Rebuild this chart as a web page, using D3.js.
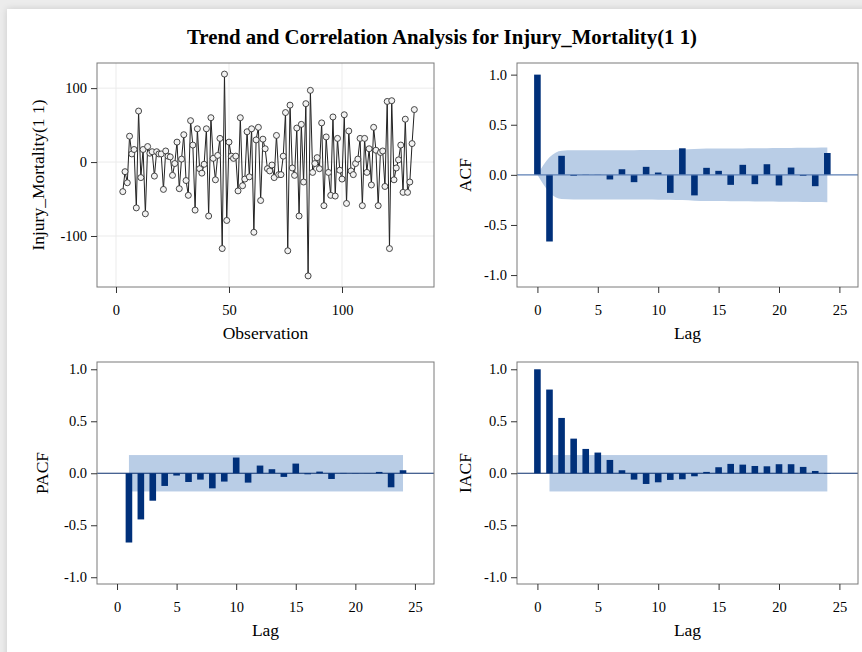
<!DOCTYPE html>
<html>
<head>
<meta charset="utf-8">
<script src="https://cdn.jsdelivr.net/npm/d3@7"></script>
<style>
  body { margin: 0; background: #ececec; overflow: hidden; }
  #card { position: absolute; left: 7px; top: 9px; width: 900px; height: 700px;
          background: #fff; box-shadow: 0 0 7px rgba(0,0,0,0.14); }
  #chart { position: absolute; left: 0; top: 0; }
</style>
</head>
<body>
<div id="card"></div>
<svg id="chart" width="862" height="652"></svg>
<script>
// time series after (1 1) differencing, starts at observation 3
const obsStart = 3;
const series = [
  -40, -13, -28, 35, 11, 17, -62, 69, -21, 17,
  -70, 21, 12, 14, -19, 14, 11, 11, -37, 15,
  8, 7, -18, -2, 27, -36, 4, 37, -25, -45,
  56, 23, -65, 45, -9, -15, -3, 45, -73, 60,
  5, -24, 9, 32, -117, 119, -79, 27, 8, 5,
  8, -39, 60, -32, -23, 41, -20, 45, -95, 30,
  47, -52, 31, 18, -9, -12, -4, -21, 36, -17,
  -17, 8, 67, -120, 77, -8, -18, 46, -73, 51,
  -27, 79, -154, 97, -14, -2, 6, -9, 53, -59,
  34, -14, -45, 61, -46, 32, -11, -23, 64, -56,
  42, -12, -17, -2, 4, 32, -59, 32, -14, 18,
  -31, 47, 16, -59, 13, 15, -33, 82, -117, 83,
  -24, -8, 3, 23, -41, 58, -41, -27, 25, 71
];
const obsTicks = [0, 50, 100];
const seriesTicks = [-100, 0, 100];

// autocorrelations, lag 0..24
const acf = [1.0, -0.665, 0.19, -0.01, 0.003, 0.002, -0.046, 0.056, -0.073, 0.08,
  0.023, -0.18, 0.265, -0.205, 0.07, 0.04, -0.10, 0.10, -0.093, 0.106,
  -0.106, 0.073, -0.01, -0.113, 0.218];
const acfBand = [0, 0.175, 0.241, 0.245, 0.245, 0.245, 0.245, 0.246, 0.246, 0.247,
  0.248, 0.248, 0.252, 0.258, 0.262, 0.262, 0.263, 0.264, 0.265, 0.266,
  0.268, 0.269, 0.27, 0.271, 0.273];

// partial autocorrelations, lag 1..24
const pacf = [-0.666, -0.444, -0.264, -0.122, -0.022, -0.084, -0.061, -0.145, -0.08, 0.151,
  -0.09, 0.074, 0.039, -0.035, 0.093, -0.01, 0.016, -0.055, 0.003, -0.002,
  0.001, 0.013, -0.135, 0.029];
const pacfBand = 0.175;

// inverse autocorrelations, lag 0..24
const iacf = [1.0, 0.805, 0.532, 0.333, 0.234, 0.199, 0.128, 0.029, -0.061, -0.103,
  -0.087, -0.064, -0.058, -0.029, 0.013, 0.058, 0.09, 0.083, 0.07, 0.067,
  0.087, 0.087, 0.061, 0.022, -0.005];
const iacfBand = 0.175;

const lagTicks = [0, 5, 10, 15, 20, 25];
const corrTicks = [-1, -0.5, 0, 0.5, 1];

const font = "'Liberation Serif', 'Times New Roman', serif";
const barColor = '#00307a';
const bandColor = '#b9cde6';

const svg = d3.select('#chart');

svg.append('text')
  .attr('x', 442)
  .attr('y', 44)
  .attr('text-anchor', 'middle')
  .attr('font-family', font)
  .attr('font-weight', 'bold')
  .attr('font-size', '20px')
  .attr('textLength', 510)
  .attr('lengthAdjust', 'spacingAndGlyphs')
  .text('Trend and Correlation Analysis for Injury_Mortality(1 1)');

// one panel: frame, axes, labels; returns scales and plot group
function panel(box, xdom, ydom, xticks, yticks, yfmt, xlabel, ylabel, grid) {
  const g = svg.append('g').attr('transform', `translate(${box.x},${box.y})`);
  const xs = d3.scaleLinear().domain(xdom).range([0, box.w]);
  const ys = d3.scaleLinear().domain(ydom).range([box.h, 0]);

  if (grid) {
    g.selectAll('.gx').data(xticks).enter().append('line')
      .attr('x1', d => xs(d)).attr('x2', d => xs(d))
      .attr('y1', 0).attr('y2', box.h)
      .attr('stroke', '#ebebeb');
    g.selectAll('.gy').data(yticks).enter().append('line')
      .attr('x1', 0).attr('x2', box.w)
      .attr('y1', d => ys(d)).attr('y2', d => ys(d))
      .attr('stroke', '#ebebeb');
  }

  const plot = g.append('g');

  g.append('rect')
    .attr('width', box.w).attr('height', box.h)
    .attr('fill', 'none').attr('stroke', '#7a7a7a');

  const xa = g.append('g')
    .attr('transform', `translate(0,${box.h})`)
    .call(d3.axisBottom(xs).tickValues(xticks).tickFormat(d => String(d))
      .tickSizeOuter(0).tickSize(6).tickPadding(12));
  const ya = g.append('g')
    .call(d3.axisLeft(ys).tickValues(yticks).tickFormat(yfmt)
      .tickSizeOuter(0).tickSize(6).tickPadding(4));
  [xa, ya].forEach(a => {
    a.select('.domain').remove();
    a.selectAll('text').attr('font-family', font).attr('font-size', '14.5px').attr('fill', '#000');
    a.selectAll('line').attr('stroke', '#333');
  });

  g.append('text')
    .attr('x', box.w / 2).attr('y', box.h + 52)
    .attr('text-anchor', 'middle')
    .attr('font-family', font).attr('font-size', '17.5px')
    .text(xlabel);
  g.append('text')
    .attr('transform', `translate(${box.ylab},${box.h / 2}) rotate(-90)`)
    .attr('text-anchor', 'middle')
    .attr('font-family', font).attr('font-size', '17.5px')
    .text(ylabel);

  return { plot, xs, ys, box };
}

// top left: the differenced series
const ts = panel({ x: 97, y: 63, w: 337, h: 224, ylab: -53 },
  [-8.4, 140.7], [-169, 134], obsTicks, seriesTicks, d => String(d),
  'Observation', 'Injury_Mortality(1 1)', true);

const line = d3.line()
  .x((d, i) => ts.xs(i + obsStart))
  .y(d => ts.ys(d));
ts.plot.append('path')
  .attr('d', line(series))
  .attr('fill', 'none').attr('stroke', '#222').attr('stroke-width', 1);
ts.plot.selectAll('circle').data(series).enter().append('circle')
  .attr('cx', (d, i) => ts.xs(i + obsStart))
  .attr('cy', d => ts.ys(d))
  .attr('r', 3)
  .attr('fill', '#f2f2f2').attr('stroke', '#333').attr('stroke-width', 0.9);

const corrFmt = d => d.toFixed(1);

function bars(p, values, lagFrom) {
  const bw = 6.6;
  p.plot.selectAll('rect.bar').data(values).enter().append('rect')
    .attr('class', 'bar')
    .attr('x', (d, i) => p.xs(i + lagFrom) - bw / 2)
    .attr('width', bw)
    .attr('y', d => p.ys(Math.max(d, 0)))
    .attr('height', d => Math.abs(p.ys(d) - p.ys(0)))
    .attr('fill', barColor);
}

function zeroLine(p, color) {
  p.plot.append('line')
    .attr('x1', 0).attr('x2', p.box.w)
    .attr('y1', p.ys(0)).attr('y2', p.ys(0))
    .attr('stroke', color).attr('stroke-width', 1.2);
}

// top right: ACF
const ac = panel({ x: 517, y: 63, w: 341, h: 224, ylab: -46 },
  [-1.69, 26.54], [-1.119, 1.116], lagTicks, corrTicks, corrFmt, 'Lag', 'ACF', false);
const acfArea = d3.area()
  .x((d, i) => ac.xs(i))
  .y0(d => ac.ys(-d))
  .y1(d => ac.ys(d))
  .curve(d3.curveMonotoneX);
ac.plot.append('path').attr('d', acfArea(acfBand)).attr('fill', bandColor);
bars(ac, acf, 0);
zeroLine(ac, '#5d7fb4');

// bottom left: PACF
const pa = panel({ x: 97, y: 362, w: 337, h: 222, ylab: -49 },
  [-1.68, 26.6], [-1.065, 1.07], lagTicks, corrTicks, corrFmt, 'Lag', 'PACF', false);
pa.plot.append('rect')
  .attr('x', pa.xs(1)).attr('width', pa.xs(24) - pa.xs(1))
  .attr('y', pa.ys(pacfBand)).attr('height', pa.ys(-pacfBand) - pa.ys(pacfBand))
  .attr('fill', bandColor);
zeroLine(pa, '#0b2f6e');
bars(pa, pacf, 1);

// bottom right: IACF
const ia = panel({ x: 517, y: 362, w: 341, h: 222, ylab: -46 },
  [-1.69, 26.54], [-1.065, 1.07], lagTicks, corrTicks, corrFmt, 'Lag', 'IACF', false);
ia.plot.append('rect')
  .attr('x', ia.xs(1)).attr('width', ia.xs(24) - ia.xs(1))
  .attr('y', ia.ys(iacfBand)).attr('height', ia.ys(-iacfBand) - ia.ys(iacfBand))
  .attr('fill', bandColor);
zeroLine(ia, '#0b2f6e');
bars(ia, iacf, 0);
</script>
</body>
</html>
